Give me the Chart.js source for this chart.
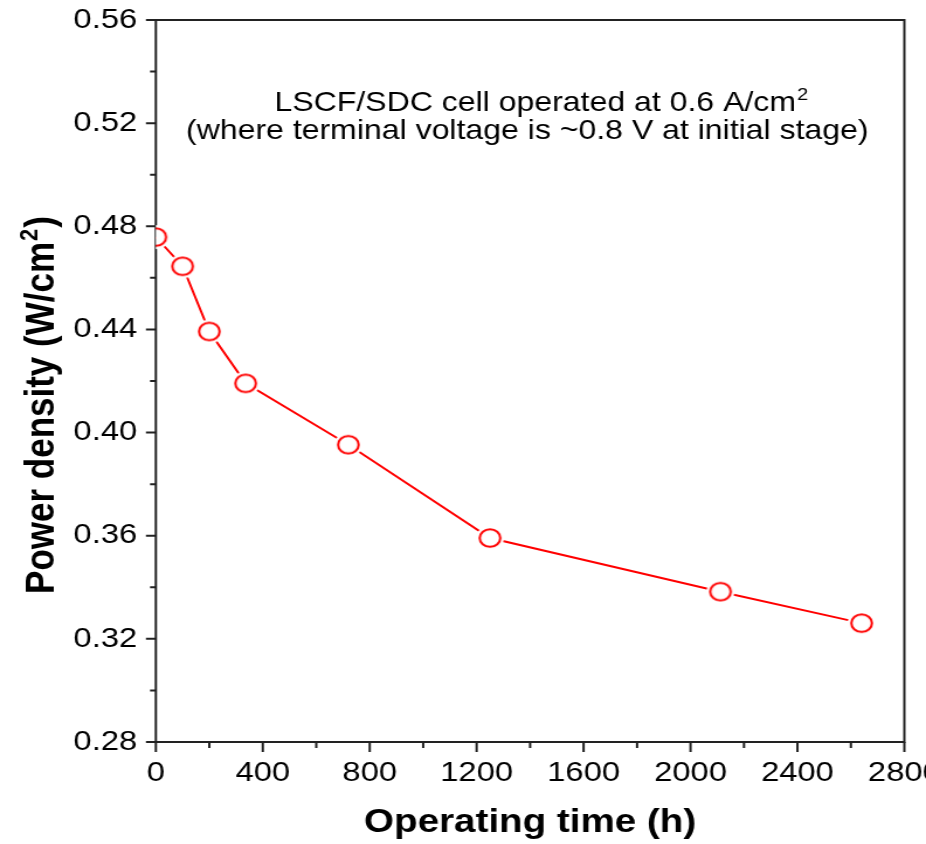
<!DOCTYPE html>
<html><head><meta charset="utf-8">
<script src="https://cdn.jsdelivr.net/npm/chart.js@4/dist/chart.umd.min.js"></script>
<style>
html,body{margin:0;padding:0;background:#fff;overflow:hidden;}
#wrap{width:792px;height:844px;transform:scaleX(1.1692);transform-origin:0 0;}
</style></head><body>
<div id="wrap"><canvas id="c" width="792" height="844" style="width:792px;height:844px"></canvas></div>
<script>
// ---- data ----
const hours = [0, 100, 200, 336, 720, 1250, 2112, 2640];
const powerDensity = [0.4758, 0.4645, 0.4392, 0.4191, 0.3953, 0.3591, 0.3383, 0.3261];
const xMajorTicks = [0, 400, 800, 1200, 1600, 2000, 2400, 2800];
const xMinorTicks = [200, 600, 1000, 1400, 1800, 2200, 2600];
const yMajorTicks = [0.28, 0.32, 0.36, 0.40, 0.44, 0.48, 0.52, 0.56];
const yMinorTicks = [0.30, 0.34, 0.38, 0.42, 0.46, 0.50, 0.54];
const xTitle = 'Operating time (h)';
const yTitleMain = 'Power density (W/cm';
const yTitleSup = '2';
const yTitleEnd = ')';
const noteLine1 = 'LSCF/SDC cell operated at 0.6 A/cm';
const noteLine1Sup = '2';
const noteLine2 = '(where terminal voltage is ~0.8 V at initial stage)';

const FONT = "'Liberation Sans', Arial, Helvetica, sans-serif";
const AXIS = '#222';

// open-circle marker with a white halo so the line stops short of it
function makeMarker() {
  const s = 28, c = document.createElement('canvas');
  c.width = s; c.height = s;
  const g = c.getContext('2d');
  g.fillStyle = '#fff';
  g.beginPath(); g.arc(s / 2, s / 2, 12, 0, Math.PI * 2); g.fill();
  g.strokeStyle = '#ff0000'; g.lineWidth = 2;
  g.beginPath(); g.arc(s / 2, s / 2, 8.8, 0, Math.PI * 2); g.stroke();
  return c;
}
const marker = makeMarker();

const framePlugin = {
  id: 'frame',
  beforeDatasetsDraw(chart) {
    const {ctx, chartArea: a, scales: {x, y}} = chart;
    ctx.save();
    ctx.strokeStyle = AXIS;
    ctx.lineWidth = 2;
    ctx.strokeRect(a.left, a.top, a.right - a.left, a.bottom - a.top);
    ctx.beginPath();
    xMajorTicks.forEach(v => { const p = x.getPixelForValue(v); ctx.moveTo(p, a.bottom); ctx.lineTo(p, a.bottom + 10); });
    xMinorTicks.forEach(v => { const p = x.getPixelForValue(v); ctx.moveTo(p, a.bottom); ctx.lineTo(p, a.bottom + 6); });
    yMajorTicks.forEach(v => { const p = y.getPixelForValue(v); ctx.moveTo(a.left, p); ctx.lineTo(a.left - 8.5, p); });
    yMinorTicks.forEach(v => { const p = y.getPixelForValue(v); ctx.moveTo(a.left, p); ctx.lineTo(a.left - 5, p); });
    ctx.stroke();
    ctx.restore();
  },
  afterDraw(chart) {
    const {ctx} = chart;
    ctx.save();
    ctx.fillStyle = '#000';
    ctx.textBaseline = 'alphabetic';
    ctx.textAlign = 'left';
    // annotation line 1 with superscript
    ctx.font = `27.4px ${FONT}`;
    const w1 = ctx.measureText(noteLine1).width;
    ctx.font = `17px ${FONT}`;
    const ws = ctx.measureText(noteLine1Sup).width;
    let sx = 463 - (w1 + ws + 1) / 2;
    ctx.font = `27.4px ${FONT}`;
    ctx.fillText(noteLine1, sx, 111);
    ctx.font = `17px ${FONT}`;
    ctx.fillText(noteLine1Sup, sx + w1 + 1, 100);
    // annotation line 2
    ctx.font = `27.4px ${FONT}`;
    ctx.textAlign = 'center';
    ctx.fillText(noteLine2, 451, 139);
    // y-axis title, rotated, with superscript
    ctx.textAlign = 'left';
    ctx.translate(46, 405);
    ctx.rotate(-Math.PI / 2);
    ctx.font = `bold 35px ${FONT}`;
    const wm = ctx.measureText(yTitleMain).width;
    const we = ctx.measureText(yTitleEnd).width;
    ctx.font = `bold 22px ${FONT}`;
    const wsup = ctx.measureText(yTitleSup).width;
    const total = wm + wsup + 2 + we;
    let tx = -total / 2;
    ctx.font = `bold 35px ${FONT}`;
    ctx.fillText(yTitleMain, tx, 0);
    ctx.font = `bold 22px ${FONT}`;
    ctx.fillText(yTitleSup, tx + wm + 1, -14);
    ctx.font = `bold 35px ${FONT}`;
    ctx.fillText(yTitleEnd, tx + wm + wsup + 2, 0);
    ctx.restore();
  }
};

new Chart(document.getElementById('c'), {
  type: 'line',
  data: {
    datasets: [{
      data: hours.map((h, i) => ({x: h, y: powerDensity[i]})),
      borderColor: '#ff0000',
      borderWidth: 2,
      pointRadius: 10,
      pointStyle: marker,
      tension: 0,
      clip: 0
    }]
  },
  options: {
    responsive: false,
    animation: false,
    events: [],
    layout: {padding: {top: 20, right: 18.5, left: 0, bottom: 0}},
    plugins: {legend: {display: false}, tooltip: {enabled: false}},
    scales: {
      x: {
        type: 'linear', position: 'bottom', min: 0, max: 2800,
        afterBuildTicks: s => { s.ticks = xMajorTicks.map(v => ({value: v})); },
        afterFit: s => { s.height = 102; s.paddingLeft = 0; s.paddingRight = 0; },
        grid: {display: false, drawTicks: false},
        border: {display: false},
        ticks: {color: '#000', font: {family: FONT, size: 28}, padding: 14, maxRotation: 0, autoSkip: false,
                callback: v => String(v)},
        title: {display: true, text: xTitle, color: '#000', font: {family: FONT, size: 33, weight: 'bold'}, padding: {top: 0, bottom: 1}}
      },
      y: {
        type: 'linear', position: 'left', min: 0.28, max: 0.56,
        afterBuildTicks: s => { s.ticks = yMajorTicks.map(v => ({value: v})); },
        afterFit: s => { s.width = 133.3; s.paddingTop = 0; s.paddingBottom = 0; },
        grid: {display: false, drawTicks: false},
        border: {display: false},
        ticks: {color: '#000', font: {family: FONT, size: 28}, padding: 16, autoSkip: false,
                callback: v => Number(v).toFixed(2)}
      }
    }
  },
  plugins: [framePlugin]
});
</script>
</body></html>
